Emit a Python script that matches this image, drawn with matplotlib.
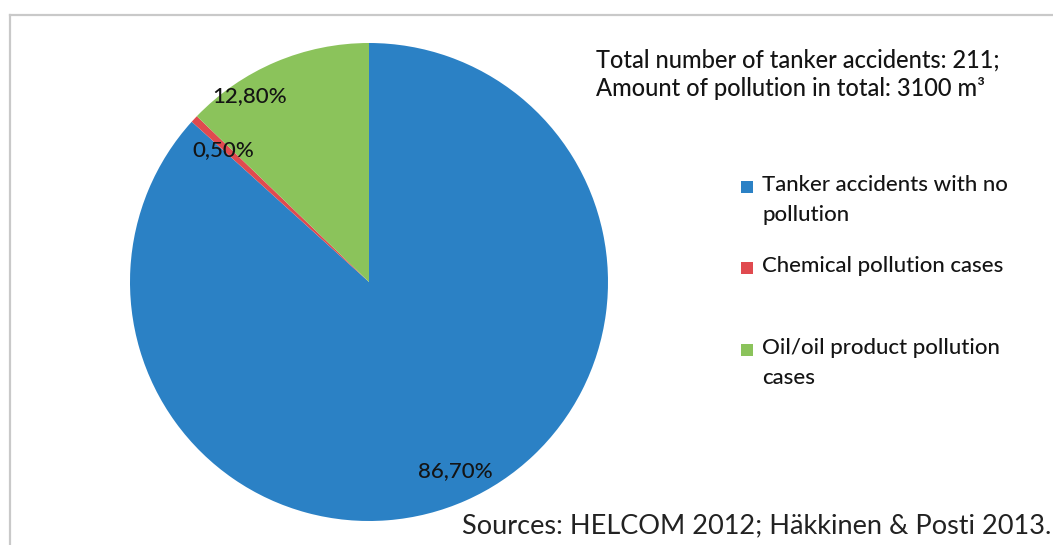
"""
Tanker accidents in the Baltic Sea by pollution type (pie chart).
"""

import matplotlib.pyplot as plt
from matplotlib.lines import Line2D
from matplotlib.patches import Rectangle

CATEGORIES = [
    "Tanker accidents with no\npollution",
    "Chemical pollution cases",
    "Oil/oil product pollution\ncases",
]
SHARES = [86.7, 0.5, 12.8]
COLORS = ["#2b81c5", "#e04a4f", "#8bc35b"]

HEADER = ["Total number of tanker accidents: 211;",
          "Amount of pollution in total: 3100 m\u00b3"]
SOURCE = "Sources: HELCOM 2012; H\u00e4kkinen & Posti 2013."

W, H = 1053, 545
TEXT = "#141414"
plt.rcParams["font.family"] = ["Lato", "DejaVu Sans"]
plt.rcParams["font.weight"] = "medium"


def fx(px):
    return px / W


def fy(py):
    return 1 - py / H


def main() -> None:
    fig = plt.figure(figsize=(W / 100, H / 100), dpi=100)

    # pie axes: centre (369, 282), radius 239 px
    r = 239
    ax = fig.add_axes([fx(369 - r), fy(282 + r), 2 * r / W, 2 * r / H])
    wedges, _, autotexts = ax.pie(
        SHARES,
        colors=COLORS,
        startangle=90,
        counterclock=False,
        autopct=lambda p: f"{p:.2f}%".replace(".", ","),
        pctdistance=0.87,
        wedgeprops=dict(linewidth=0),
        textprops=dict(fontsize=16, color=TEXT),
    )
    ax.set_xlim(-1, 1)
    ax.set_ylim(-1, 1)
    ax.set_aspect("equal")
    ax.axis("off")

    # label positions as placed in the original
    autotexts[0].set_position((0.36, -0.79))
    autotexts[1].set_position((-0.61, 0.55))
    autotexts[2].set_position((-0.50, 0.78))

    # grey frame (top and left edge)
    fig.add_artist(Line2D([fx(10), 1.0], [fy(15), fy(15)],
                          transform=fig.transFigure, color="#c9c9c9", lw=1.6))
    fig.add_artist(Line2D([fx(10), fx(10)], [fy(15), 0.0],
                          transform=fig.transFigure, color="#c9c9c9", lw=1.6))

    # header text
    for i, line in enumerate(HEADER):
        fig.text(fx(596), fy(60 + 28 * i), line, fontsize=17,
                 color=TEXT, va="center", ha="left")

    # legend
    for label, color, y in zip(CATEGORIES, COLORS, [187, 268, 350]):
        fig.add_artist(Rectangle((fx(741), fy(y + 6)), fx(12), 12 / H,
                                 transform=fig.transFigure, color=color, lw=0))
        fig.text(fx(762), fy(y - 12), label, fontsize=16, color=TEXT,
                 va="top", ha="left", linespacing=1.6)

    fig.text(fx(1051), fy(526), SOURCE, fontsize=19.5, color="#222222",
             ha="right", va="center", fontweight="normal")

    fig.savefig("out.png", dpi=100)


if __name__ == "__main__":
    main()
